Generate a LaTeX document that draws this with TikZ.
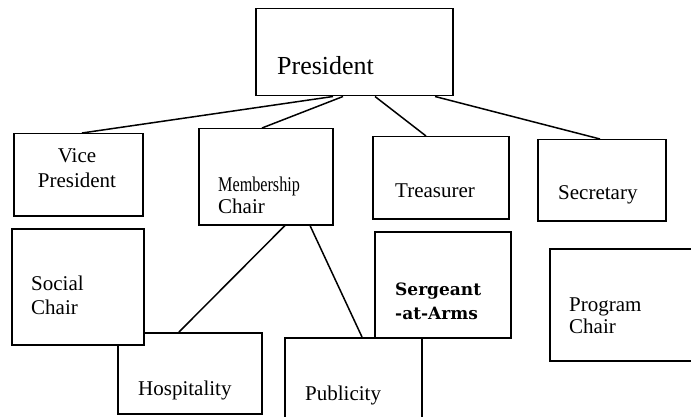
\documentclass[tikz,border=0pt]{standalone}
\usepackage{graphicx}
\usepackage{fontspec}
\setmainfont{Liberation Serif}
\newfontfamily\sgtfont{DejaVu Serif}
\begin{document}
\begin{tikzpicture}[x=1pt,y=-1pt,
  box/.style={draw=black,line width=1.5pt,fill=white,rectangle,inner sep=0pt,anchor=north west},
  conn/.style={draw=black,line width=1.5pt},
  txt/.style={anchor=base west,inner sep=0pt,font=\fontsize{21}{24}\selectfont},
  ctxt/.style={anchor=base,inner sep=0pt,font=\fontsize{21}{24}\selectfont}]
\clip (0,0) rectangle (691,417);
\fill[white] (0,0) rectangle (691,417);
% boxes
\node[box,minimum width=197pt,minimum height=87pt] (pres) at (255,8) {};
\node[box,minimum width=129pt,minimum height=82pt] (vp) at (13,133) {};
\node[box,minimum width=134pt,minimum height=96pt] (mem) at (198,128) {};
\node[box,minimum width=136pt,minimum height=82pt] (tre) at (372,136) {};
\node[box,minimum width=128pt,minimum height=81pt] (sec) at (537,139) {};
\node[box,minimum width=144pt,minimum height=81pt] (hos) at (117,332) {};
\node[box,minimum width=132pt,minimum height=116pt] (soc) at (11,228) {};
\node[box,minimum width=137pt,minimum height=95pt] (pub) at (284,337) {};
\node[box,minimum width=136pt,minimum height=106pt] (sgt) at (374,231) {};
\node[box,minimum width=160pt,minimum height=112pt] (prg) at (549,248) {};
% connectors
\draw[conn] ([xshift=78pt]pres.south west) -- ([xshift=69pt]vp.north west);
\draw[conn] ([xshift=88pt]pres.south west) -- ([xshift=64pt]mem.north west);
\draw[conn] ([xshift=120pt]pres.south west) -- ([xshift=54pt]tre.north west);
\draw[conn] ([xshift=180pt]pres.south west) -- ([xshift=63pt]sec.north west);
\draw[conn] ([xshift=87pt]mem.south west) -- ([xshift=62pt]hos.north west);
\draw[conn] ([xshift=112pt]mem.south west) -- ([xshift=78pt]pub.north west);
% texts
\node[txt,font=\fontsize{26}{30}\selectfont] (presT) at (277,75) {President};
\node[ctxt] (vpT1) at (77,163) {Vice};
\node[ctxt] (vpT2) at (77,187) {President};
\node[txt] (memT1) at (218,192) {\scalebox{0.77}[1]{Membership}};
\node[txt] (memT2) at (218,213) {Chair};
\node[txt] (treT) at (395,197) {Treasurer};
\node[txt] (secT) at (558,200) {Secretary};
\node[txt] (socT1) at (31,290) {Social};
\node[txt] (socT2) at (31,314) {Chair};
\node[txt] (hosT) at (138,395) {Hospitality};
\node[txt] (pubT) at (305,400) {Publicity};
\node[txt,font=\sgtfont\bfseries\fontsize{17}{20}\selectfont] (sgtT1) at (395,295) {Sergeant};
\node[txt,font=\sgtfont\bfseries\fontsize{17}{20}\selectfont] (sgtT2) at (395,319) {-at-Arms};
\node[txt] (prgT1) at (569,311) {Program};
\node[txt] (prgT2) at (569,333) {Chair};
\end{tikzpicture}
\end{document}
